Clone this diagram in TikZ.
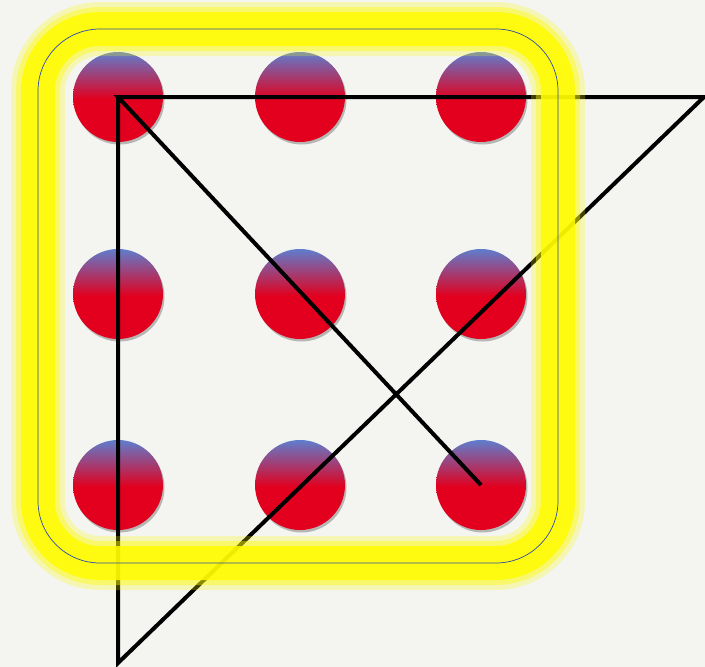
\documentclass[tikz,border=0pt]{standalone}
\usetikzlibrary{shadows,positioning}
\definecolor{bg}{RGB}{244,245,241}
\definecolor{dotred}{RGB}{226,0,30}
\definecolor{dotblue}{RGB}{95,125,205}
\definecolor{glow}{RGB}{255,252,0}
\definecolor{rim}{RGB}{45,75,170}
\pgfdeclareverticalshading{dotshade}{100bp}{color(0bp)=(dotred); color(25bp)=(dotred); color(49bp)=(dotred); color(75bp)=(dotblue); color(100bp)=(dotblue)}
\tikzset{
  dot/.style={circle,minimum size=90pt,inner sep=0pt,shading=dotshade,
    drop shadow={shadow xshift=1.5pt,shadow yshift=-2.5pt,fill=black,opacity=0.25}},
  ln/.style={draw=black,line width=4pt},
  halo/.style={draw=glow,rounded corners=62pt},
  rimline/.style={draw=rim,line width=0.7pt,rounded corners=62pt},
}

\begin{document}
\begin{tikzpicture}[x=1pt,y=-1pt]
  \fill[bg] (0,0) rectangle (705,667);
  \useasboundingbox (0,0) rectangle (705,667);
  % nine dots
  \foreach \r/\y in {1/97,2/294,3/485}
    \foreach \c/\x in {1/118,2/300,3/481}
      \node[dot] (d\r\c) at (\x,\y) {};
  % four strokes
  \coordinate (apex) at (704,97);
  \coordinate (foot) at (118,663);
  \draw[ln] (d33.center) -- (d11.center) -- (apex) -- (foot) -- (d11.center);
  % the box round the dots
  \draw[halo,line width=54pt,opacity=0.25] (38,29) rectangle (558,563);
  \draw[halo,line width=44pt,opacity=0.4] (38,29) rectangle (558,563);
  \draw[halo,line width=34pt,opacity=0.85] (38,29) rectangle (558,563);
  \draw[rimline] (38,29) rectangle (558,563);
\end{tikzpicture}
\end{document}
